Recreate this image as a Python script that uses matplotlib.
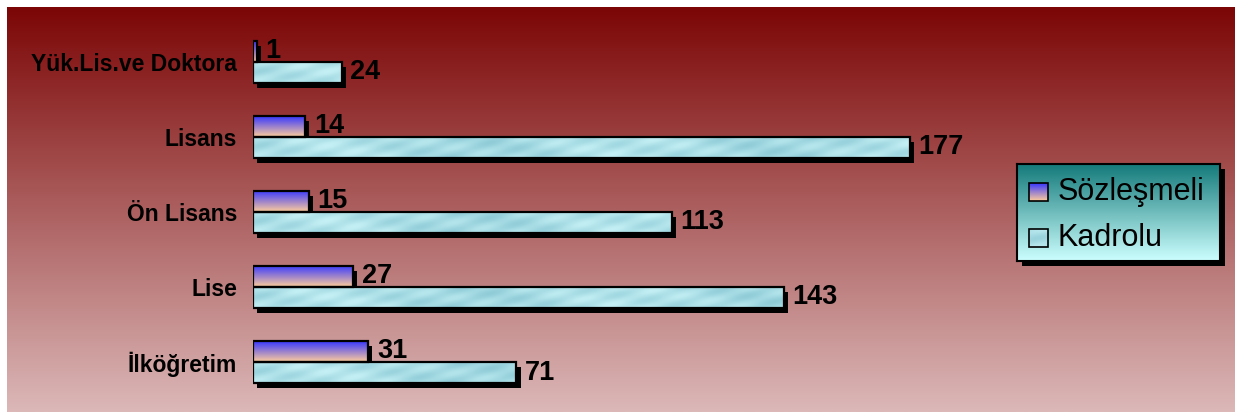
import numpy as np
import matplotlib
matplotlib.use('Agg')
import matplotlib.pyplot as plt
import matplotlib.patheffects as pe
from matplotlib.patches import Rectangle

# data
categories = ['Yük.Lis.ve Doktora', 'Lisans', 'Ön Lisans', 'Lise', 'İlköğretim']
sozlesmeli = [1, 14, 15, 27, 31]
kadrolu = [24, 177, 113, 143, 71]
series_names = ['Sözleşmeli', 'Kadrolu']

plt.rcParams['font.family'] = ['Liberation Sans', 'DejaVu Sans']

W, H = 1235, 412
fig = plt.figure(figsize=(W / 100, H / 100), dpi=100)
fig.patch.set_facecolor('white')


def vgrad(top, bottom, n=256):
    t = np.linspace(0, 1, n)[:, None, None]
    top = np.array(top, float)[None, None, :] / 255
    bottom = np.array(bottom, float)[None, None, :] / 255
    return top * (1 - t) + bottom * t


def texture(ncols, nrows=22):
    # periodic light-cyan mottled fill for the Kadrolu bars
    xx, yy = np.meshgrid(np.arange(ncols), np.arange(nrows))
    v = (np.sin(xx / 7.0 + yy / 2.5) * 0.45 + np.sin(xx / 19.0 - yy / 4.0) * 0.4
         + np.sin(xx / 47.0) * 0.45)
    base = np.array([170, 222, 230]) / 255
    img = base[None, None, :] + v[:, :, None] * np.array([0.08, 0.055, 0.045])
    return np.clip(img, 0, 1)


# background gradient
bg = fig.add_axes([7 / W, 0, 1 - 7 / W, 405 / H])
bg.imshow(vgrad((124, 6, 6), (220, 184, 184)), aspect='auto', extent=[0, 1, 0, 1])
bg.set_axis_off()

# main axes: zero at x=253 px, 742 px for 0..200
top_px, bot_px = 24.5, 399.5
ax = fig.add_axes([253 / W, (H - bot_px) / H, 742 / W, (bot_px - top_px) / H])
ax.set_facecolor('none')

y = np.arange(len(categories))
h = 0.28
shadow = [pe.SimplePatchShadow(offset=(3, -3.6), shadow_rgbFace='black', alpha=1.0), pe.Normal()]

soz_grad = vgrad((55, 55, 255), (255, 204, 155), 64)
for i, (s, k) in enumerate(zip(sozlesmeli, kadrolu)):
    ys, yk = y[i] - h / 2, y[i] + h / 2
    ax.barh(ys, s, height=h, color='black', zorder=2, path_effects=shadow)
    ax.imshow(soz_grad, extent=(0, s, ys + h / 2, ys - h / 2), aspect='auto', zorder=3)
    ax.barh(yk, k, height=h, color='black', zorder=2, path_effects=shadow)
    ax.imshow(texture(int(k * 3.7)), extent=(0, k, yk + h / 2, yk - h / 2), aspect='auto', zorder=3)

ax.barh(y - h / 2, sozlesmeli, height=h, facecolor='none', edgecolor='black', lw=1.6, zorder=4)
ax.barh(y + h / 2, kadrolu, height=h, facecolor='none', edgecolor='black', lw=1.6, zorder=4)

for i, (s, k) in enumerate(zip(sozlesmeli, kadrolu)):
    ax.annotate(str(s), (s, y[i] - h / 2), xytext=(6.5, 0.5), textcoords='offset points',
                ha='left', va='center', fontsize=19.5, fontweight='bold', zorder=5)
    ax.annotate(str(k), (k, y[i] + h / 2), xytext=(6, 0), textcoords='offset points',
                ha='left', va='center', fontsize=19.5, fontweight='bold', zorder=5)

ax.set_xlim(0, 200)
ax.set_ylim(len(categories) - 0.5, -0.5)
ax.set_yticks(y)
ax.set_yticklabels(categories, fontsize=16.5, fontweight='bold')
ax.tick_params(axis='y', length=0, pad=11.5)
ax.set_xticks([])
for sp in ax.spines.values():
    sp.set_visible(False)

# legend box
lx0, lx1, ly0, ly1 = 1017, 1220, 164, 261
fig.patches.append(Rectangle(((lx0 + 5) / W, (H - ly1 - 5) / H), (lx1 - lx0) / W, (ly1 - ly0) / H,
                             transform=fig.transFigure, facecolor='black', zorder=5))
lax = fig.add_axes([lx0 / W, (H - ly1) / H, (lx1 - lx0) / W, (ly1 - ly0) / H], zorder=6)
lax.imshow(vgrad((20, 122, 122), (205, 255, 255)), aspect='auto',
           extent=[0, lx1 - lx0, ly1 - ly0, 0])
lax.set_xticks([])
lax.set_yticks([])
for sp in lax.spines.values():
    sp.set_linewidth(1.5)

legend_imgs = [soz_grad, texture(18, 18)]
for j, (name, img) in enumerate(zip(series_names, legend_imgs)):
    cy = (192, 238)[j] - ly0
    lax.imshow(img, extent=(12, 31, cy + 9, cy - 9), aspect='auto', zorder=2)
    lax.add_patch(Rectangle((12, cy - 9), 19, 18, facecolor='none', edgecolor='black', lw=1.2, zorder=3))
    lax.text(41, cy, name, fontsize=22, va='center', ha='left')
lax.set_xlim(0, lx1 - lx0)
lax.set_ylim(ly1 - ly0, 0)

fig.savefig('out.png', dpi=100)
